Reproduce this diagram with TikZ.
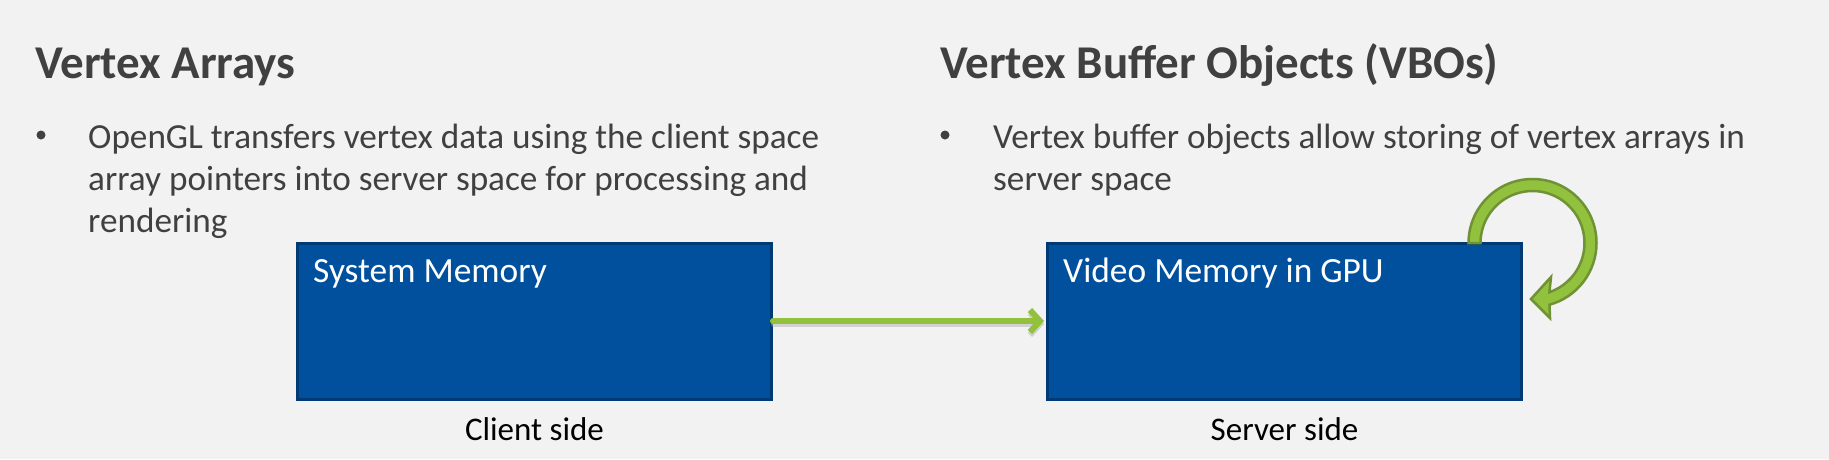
\documentclass[tikz,border=0pt]{standalone}
\usepackage{fontspec}
\setmainfont{Carlito}
\usetikzlibrary{arrows.meta}
\definecolor{bg}{HTML}{F2F2F2}
\definecolor{txt}{HTML}{404040}
\definecolor{boxfill}{HTML}{00509E}
\definecolor{boxline}{HTML}{003A75}
\definecolor{grn}{HTML}{92C13E}
\definecolor{grndark}{HTML}{6F9234}
\tikzset{
  title/.style={anchor=base west, inner sep=0pt, text=txt, font=\fontsize{47}{56}\selectfont\bfseries},
  body/.style={anchor=base west, inner sep=0pt, text=txt, font=\fontsize{35.2}{42}\selectfont},
  bul/.style={circle, fill=txt, inner sep=0pt, minimum size=9pt},
  membox/.style={draw=boxline, line width=3pt, fill=boxfill, minimum width=474pt, minimum height=156pt, inner sep=0pt},
  boxtext/.style={anchor=base west, inner sep=0pt, text=white, font=\fontsize{35.4}{40}\selectfont},
  sidelabel/.style={anchor=base, inner sep=0pt, text=black, font=\fontsize{33}{38}\selectfont},
  flow/.style={grn, line width=6pt, line cap=round, line join=round, -{Straight Barb[length=10pt,width=22pt]}},
  flowshadow/.style={black!30, opacity=0.5, line width=6pt, line cap=round, line join=round, -{Straight Barb[length=10pt,width=22pt]}},
  looparrow/.style={fill=grn, draw=grndark, line width=2.5pt, line join=miter}
}
\begin{document}
\begin{tikzpicture}[x=1pt,y=1pt]
\fill[bg] (0,0) rectangle (1829,-459);
\useasboundingbox (0,0) rectangle (1829,-459);

% titles
\node[title] (t1) at (35,-78) {Vertex Arrays};
\node[title] (t2) at (940,-78) {Vertex Buffer Objects (VBOs)};

% left bullet
\node[bul] (b1) at (41,-135) {};
\node[body] (l1a) at (88,-148) {OpenGL transfers vertex data using the client space};
\node[body] (l1b) at (88,-190) {array pointers into server space for processing and};
\node[body] (l1c) at (88,-232) {rendering};

% right bullet
\node[bul] (b2) at (945,-135) {};
\node[body] (r1a) at (993,-148) {Vertex buffer objects allow storing of vertex arrays in};
\node[body] (r1b) at (993,-190) {server space};

% boxes
\node[membox] (sysmem) at (534.5,-321) {};
\node[membox] (vidmem) at (1284.5,-321) {};
\node[boxtext] (sysmemt) at (313,-282) {System Memory};
\node[boxtext] (vidmemt) at (1063,-282) {Video Memory in GPU};

% labels
\node[sidelabel] (cl) at (sysmem.south |- 0,-440) {Client side};
\node[sidelabel] (sl) at (vidmem.south |- 0,-440) {Server side};

% straight arrow
\draw[flowshadow] ([shift={(1,-3)}]sysmem.east) -- ([shift={(-2,-3)}]vidmem.west);
\draw[flow] (sysmem.east) -- ([xshift=-2pt]vidmem.west);

% loop arrow
\coordinate (lc) at ([shift={(9.5,-1.5)}]vidmem.north east);
\draw[looparrow] ([shift={(180:64)}]lc) arc[start angle=180, end angle=-74.6, radius=64]
  -- (1550,-318) -- (1531,-299) -- (1551,-277)
  -- ([shift={(-71:52)}]lc) arc[start angle=-71, end angle=180, radius=52] -- cycle;
\end{tikzpicture}
\end{document}
